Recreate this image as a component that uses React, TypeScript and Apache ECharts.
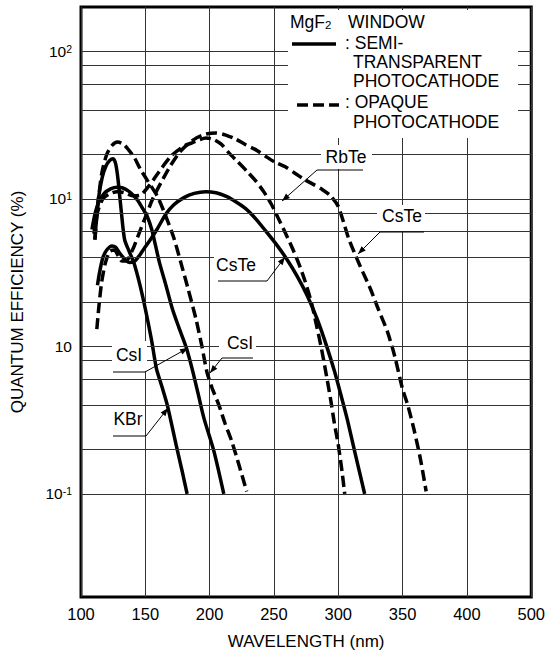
import React, { useEffect, useRef } from 'react';
import * as echarts from 'echarts';

const FONT = "'Liberation Sans', Arial, Helvetica, sans-serif";

// Axis ticks (the last tick is printed as "500" in the original)
const xTickLabels = ['100', '150', '200', '250', '300', '350', '400', '500'];
const yGridValues = [0.1, 0.2, 0.4, 0.6, 0.8, 1, 2, 4, 6, 8, 10, 20, 40, 60, 80, 100];
const yTickLabels: Record<string, string> = {
  '-1': '10{sup|-1}',
  '0': '10',
  '1': '10{sup|1}',
  '2': '10{sup|2}',
};

// Semi-transparent photocathodes (solid)
const kbrSemi = [
  [110.8, 5.3], [112, 7.2], [113.5, 10], [116.5, 14], [119.5, 16.8], [122.5, 18.3], [125, 18.7],
  [127, 17.2], [128.8, 13.5], [131.4, 8.1], [133.9, 5.3], [137.5, 4.4], [141.5, 3.6], [147.8, 2.2],
  [154.7, 1.12], [158.6, 0.71], [163, 0.53], [167.1, 0.4], [174, 0.214], [178.6, 0.143], [182.5, 0.1],
];
const csiSemi = [
  [108.5, 6.2], [111, 8], [114, 9.6], [118, 10.9], [123, 11.7], [128, 12], [132, 11.9], [137, 11.3],
  [141, 10.5], [144, 9.8], [148, 8.6], [151.5, 7.6], [155, 6.2], [158, 4.8], [161, 3.7], [166, 2.6],
  [171, 1.8], [176, 1.35], [181.7, 0.99], [186.3, 0.71], [191, 0.48], [195.6, 0.325], [203.3, 0.195],
  [211, 0.1],
];
const csteSemi = [
  [112.8, 2.6], [114.5, 3.2], [117, 4.0], [120, 4.5], [124, 4.8], [127, 4.7], [130, 4.3], [134, 3.9],
  [138, 3.7], [142, 3.8], [146, 4.2], [149, 4.6], [154, 5.3], [159, 6.2], [166, 7.9], [172, 9.1],
  [180, 10.2], [188, 10.9], [197, 11.2], [205, 11.0], [213, 10.4], [220, 9.6], [228, 8.6], [236, 7.3],
  [244, 6.0], [252, 4.9], [260, 3.9], [268, 3.0], [276, 2.2], [284, 1.5], [291, 1.0], [297, 0.68],
  [302, 0.47], [307, 0.32], [313, 0.19], [320.5, 0.1],
];

// Opaque photocathodes (dashed)
const csiOpaque = [
  [110.8, 5.3], [113, 9], [116.2, 15], [120, 20], [124, 23], [128.5, 24.3], [133, 23.5], [137, 21.5],
  [141.6, 19], [146, 16], [151.7, 13.3], [159.4, 10.4], [165, 8.0], [172, 5.5], [178, 3.6], [183, 2.5],
  [189.4, 1.53], [194, 1], [197.9, 0.67], [202, 0.52], [207.2, 0.4], [212, 0.3], [217.2, 0.227],
  [223, 0.155], [228.8, 0.104],
];
const rbteOpaque = [
  [110, 5.8], [113, 8.2], [117, 10], [122, 10.8], [128, 11.2], [134, 11], [140, 10.5], [146, 10.6],
  [152, 12], [160, 15], [170, 19.5], [180, 22.8], [186.3, 24], [192, 25.2], [197.1, 25.9], [203, 25.3],
  [209, 23.5], [215, 20.5], [222, 17.8], [229, 15.4], [236, 13.2], [242, 11.2], [248, 9.2],
  [253, 7.5], [258.8, 5.9], [264, 4.7], [269, 3.7], [274, 2.8], [279, 2.0], [283, 1.4], [287, 0.96],
  [291, 0.62], [294, 0.44], [297, 0.3], [300, 0.215], [303, 0.14], [305, 0.1],
];
const csteOpaque = [
  [112.3, 1.31], [114, 1.9], [116, 2.7], [119, 3.7], [122.4, 4.4], [126, 4.5], [129, 4.1], [131.6, 3.8],
  [135, 3.8], [140, 4.5], [145, 5.8], [150, 7.5], [155.5, 9.9], [162, 12.8], [169, 16.5], [176.3, 20.5],
  [183, 23.5], [190, 26], [197, 27.5], [205, 28], [212, 27.2], [220, 25.5], [228, 23.3], [236, 21.5],
  [244, 19.3], [251, 17.7], [258.8, 16.5], [266, 15], [274, 13.5], [281, 12.5], [288, 11.5],
  [294, 10.5], [299.7, 9], [304, 7], [308, 5.4], [313.6, 4.1], [319, 3.2], [325.1, 2.44], [331, 1.8],
  [338.2, 1.26], [344, 0.85], [349.8, 0.52], [354, 0.4], [359, 0.27], [364, 0.17], [368.3, 0.104],
];

const DASH = [11, 5];
const TXT = 17.5;

function arrowHead(x1: number, y1: number, x2: number, y2: number) {
  const a = Math.atan2(y2 - y1, x2 - x1);
  const len = 8;
  const w = 3;
  const bx = x2 - len * Math.cos(a);
  const by = y2 - len * Math.sin(a);
  const nx = -Math.sin(a) * w;
  const ny = Math.cos(a) * w;
  return {
    type: 'polygon',
    z: 101,
    silent: true,
    shape: { points: [[x2, y2], [bx + nx, by + ny], [bx - nx, by - ny]] },
    style: { fill: '#000' },
  };
}

function seg(x1: number, y1: number, x2: number, y2: number, width = 1, dash?: number[]) {
  return {
    type: 'line',
    z: 101,
    silent: true,
    shape: { x1, y1, x2, y2 },
    style: { stroke: '#000', lineWidth: width, lineDash: dash },
  };
}

function txt(x: number, y: number, text: string, align = 'left', size = TXT) {
  return {
    type: 'text',
    z: 102,
    silent: true,
    x,
    y,
    style: {
      text,
      fontSize: size,
      fontFamily: FONT,
      fill: '#000',
      align,
      verticalAlign: 'middle',
      textAlign: align,
      textVerticalAlign: 'middle',
      rich: {
        sub: { fontSize: 11.5, fontFamily: FONT, fill: '#000', verticalAlign: 'bottom', lineHeight: 12 },
      },
    },
  };
}

function box(x: number, y: number, w: number, h: number) {
  return {
    type: 'rect',
    z: 100,
    silent: true,
    shape: { x, y, width: w, height: h },
    style: { fill: '#fff' },
  };
}

function callout(label: string, cx: number, cy: number, bx: number[], hx: number[], hy: number, from: number[], tip: number[]) {
  return [
    box(bx[0], bx[1], bx[2], bx[3]),
    txt(cx, cy, label, 'center'),
    seg(hx[0], hy, hx[1], hy),
    seg(from[0], from[1], tip[0], tip[1]),
    arrowHead(from[0], from[1], tip[0], tip[1]),
  ];
}

export default function App() {
  const ref = useRef<HTMLDivElement>(null);

  useEffect(() => {
    if (!ref.current) return;
    const chart = echarts.init(ref.current, null, { renderer: 'svg' });

    const solid = (name: string, data: number[][]) => ({
      type: 'line',
      name,
      data,
      showSymbol: false,
      symbol: 'none',
      smooth: 0.25,
      silent: true,
      z: 3,
      lineStyle: { color: '#000', width: 3.5, type: 'solid', cap: 'butt' },
    });
    const dashed = (name: string, data: number[][]) => ({
      type: 'line',
      name,
      data,
      showSymbol: false,
      symbol: 'none',
      smooth: 0.25,
      silent: true,
      z: 3,
      lineStyle: { color: '#000', width: 3.5, type: DASH, cap: 'butt' },
    });

    const graphics: any[] = [
      // legend box
      box(288, 10, 230, 128),
      txt(290, 22, 'MgF{sub|2}'),
      txt(348, 22, 'WINDOW'),
      seg(292, 44, 336, 44, 3.5),
      txt(345, 43, ': SEMI-'),
      txt(353, 62, 'TRANSPARENT'),
      txt(353, 81, 'PHOTOCATHODE'),
      seg(297, 105, 339, 105, 3.5, DASH),
      txt(345, 102, ': OPAQUE'),
      txt(353, 122, 'PHOTOCATHODE'),
      // callouts
      ...callout('RbTe', 346, 157, [321, 145, 51, 24], [317, 363], 170, [317, 170], [282, 201]),
      ...callout('CsTe', 402, 216, [377, 205, 48, 26], [380, 424], 232, [380, 232], [358, 254]),
      ...callout('CsTe', 236, 265, [214, 252, 56, 28], [218, 267], 281, [267, 281], [285, 257]),
      ...callout('CsI', 129, 355, [112, 341, 35, 30], [113, 145], 372, [145, 372], [188, 348]),
      ...callout('CsI', 240, 343, [219, 331, 37, 25], [222, 253], 358, [222, 358], [210, 373]),
      txt(128, 419, 'KBr', 'center'),
      seg(113, 436, 146, 436),
      seg(146, 436, 168, 408),
      arrowHead(146, 436, 168, 408),
    ];

    chart.setOption({
      animation: false,
      backgroundColor: '#fff',
      textStyle: { fontFamily: FONT },
      grid: {
        left: 81,
        right: 13,
        top: 7,
        bottom: 62,
        show: true,
        borderColor: '#000',
        borderWidth: 3,
        backgroundColor: 'transparent',
      },
      xAxis: {
        type: 'value',
        min: 100,
        max: 450,
        interval: 50,
        axisLine: { show: false },
        axisTick: { show: false },
        splitLine: { show: true, lineStyle: { color: '#333', width: 1 } },
        axisLabel: {
          fontSize: 16.5,
          color: '#000',
          fontFamily: FONT,
          margin: 8,
          formatter: (v: number) => xTickLabels[Math.round((v - 100) / 50)] ?? '',
        },
        name: 'WAVELENGTH (nm)',
        nameLocation: 'middle',
        nameGap: 36,
        nameTextStyle: { fontSize: 17, color: '#000', fontFamily: FONT },
      },
      yAxis: {
        type: 'log',
        logBase: 10,
        min: 0.02,
        max: 200,
        axisLine: { show: false },
        axisTick: { show: false },
        splitLine: { show: false },
        axisLabel: {
          fontSize: 15.5,
          color: '#000',
          fontFamily: FONT,
          margin: 9,
          formatter: (v: number) => {
            const e = Math.log10(v);
            const r = Math.round(e);
            if (Math.abs(e - r) > 1e-6) return '';
            return yTickLabels[String(r)] ?? '';
          },
          rich: {
            sup: { fontSize: 10.5, color: '#000', fontFamily: FONT, verticalAlign: 'top', lineHeight: 10 },
          },
        },
        name: 'QUANTUM EFFICIENCY (%)',
        nameLocation: 'middle',
        nameGap: 55,
        nameTextStyle: { fontSize: 17, color: '#000', fontFamily: FONT },
      },
      series: [
        {
          type: 'line',
          name: 'grid',
          data: [[100, 1]],
          showSymbol: false,
          symbol: 'none',
          silent: true,
          z: 1,
          lineStyle: { opacity: 0 },
          markLine: {
            silent: true,
            symbol: ['none', 'none'],
            label: { show: false },
            lineStyle: { color: '#333', width: 1, type: 'solid' },
            emphasis: { disabled: true },
            data: yGridValues.map((v) => ({ yAxis: v })),
          },
        },
        solid('KBr', kbrSemi),
        solid('CsI', csiSemi),
        solid('CsTe', csteSemi),
        dashed('CsI opaque', csiOpaque),
        dashed('RbTe opaque', rbteOpaque),
        dashed('CsTe opaque', csteOpaque),
      ],
      graphic: { elements: graphics },
    });

    return () => chart.dispose();
  }, []);

  return (
    <div
      ref={ref}
      style={{ position: 'absolute', left: 0, top: 0, width: 548, height: 659 }}
    />
  );
}
